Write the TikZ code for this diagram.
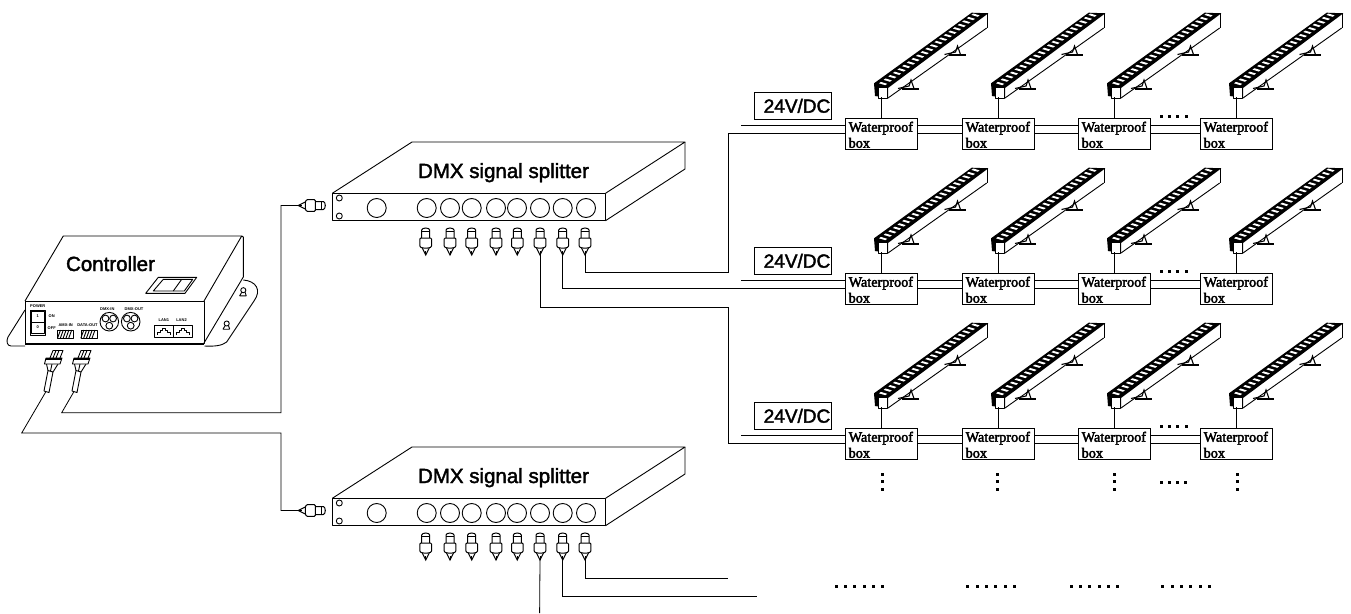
\documentclass[tikz,border=0pt]{standalone}
\usepackage{fontspec}
\setmainfont{Liberation Sans}
\newfontfamily\arialb{Liberation Sans}
\newfontfamily\arialt{Liberation Sans Bold}
\newfontfamily\timesb{Liberation Serif}
\newcommand{\heavy}[1]{\special{pdf:code 2 Tr 0.4 w}#1\special{pdf:code 0 Tr}}
\tikzset{
  ln/.style={line width=0.9pt,line join=round},
  wire/.style={line width=0.8pt},
  wbox/.style={draw,line width=0.8pt,rectangle,minimum width=72pt,minimum height=31pt,inner sep=0pt,outer sep=0pt},
  wtext/.style={inner sep=0pt,anchor=base west,align=left,font=\timesb\fontsize{14.2}{16}\selectfont},
  volt/.style={draw,line width=0.8pt,rectangle,minimum width=77pt,minimum height=27pt,inner sep=0pt,outer sep=0pt,text depth=0pt,font=\arialb\fontsize{19}{22}\selectfont},
  title/.style={inner sep=0pt,anchor=base,font=\arialb\fontsize{20.5}{24}\selectfont},
  tiny/.style={inner sep=0pt,font=\arialt\fontsize{4}{4}\selectfont},
  dotsq/.style={fill=black,draw=none},
  bnc/.pic={
    \draw[line width=1pt,fill=white] (-4,-17) -- (-4,-25) arc[start angle=180,end angle=0,x radius=4,y radius=-2] -- (4,-17);
    \draw[line width=1pt] (-4,-23.5) -- (4,-23.5);
    \draw[line width=1pt,fill=white,rounded corners=1pt] (-5.8,-17) -- (-5.8,-8) -- (-3,-7) -- (3,-7) -- (5.8,-8) -- (5.8,-17) -- cycle;
    \draw[line width=1pt] (-3.5,-7) -- (0,0) -- (3.5,-7);
    \draw[line width=1pt] (0,0) -- (0,-4);
  },
  lamp/.pic={
    \fill (874,83.3) -- (971.7,12.7) -- (988.3,13.3) -- (888,88) -- (888,98) -- (875,96) -- cycle;
    \foreach \i in {0,...,20}{
      \pgfmathsetmacro{\ax}{879+\i*4.62}
      \pgfmathsetmacro{\ay}{83.3-\i*3.42}
      \fill[white] (\ax,\ay) -- ++(1.9,-1.4) -- ++(6.3,1.9) -- ++(-1.9,1.4) -- cycle;
    }
    \draw[ln,fill=white] (878.5,87.5) rectangle (887.5,98);
    \draw[ln] (888,98) -- (986.7,28);
    \draw[line width=1.3pt] (987.5,13) -- (987.5,28);
    \draw[line width=1.1pt] (898,88.5) -- (909,86) -- (911,80) -- (914,88.5);
    \draw[line width=1.9pt] (902,89.3) -- (919.3,89.3);
    \draw[line width=1.1pt] (944.5,54.5) -- (955.5,52) -- (957.5,46) -- (960.5,54.5);
    \draw[line width=1.9pt] (948.5,55.3) -- (965.8,55.3);
  },
  plug/.pic={
    \draw[ln,fill=white] (44,391) -- (49,392.5) -- (53,372) -- (48,370.5) -- cycle;
    \draw[ln] (48,370.5) -- (46.5,364) (53,372) -- (58,364) (50.5,371) -- (52,364);
    \draw[ln,fill=white] (46,358) -- (62,358) -- (60,364) -- (44.5,364) -- cycle;
    \draw[line width=1.1pt] (46,359) -- (62,359);
    \draw[ln] (50,358) -- (53,350.5) -- (63,350.5) -- (60,358);
    \draw[ln] (53,358) -- (56,350.5) (56,358) -- (59,350.5);
  },
  keyhole/.pic={
    \begin{scope}[scale=1.5]
    \draw[ln] (0,-1) circle[radius=1.7];
    \draw[ln] (-2.5,2.8) -- (-1,0.4) (2,2.8) -- (1.2,0.4) (-2.5,2.8) -- (2,2.8);
    \end{scope}
  },
  port/.pic={
    \draw[ln] (0,0) rectangle (19,12.5);
    \draw[ln] (3,10) -- (3,7.5) -- (6,7.5) -- (6,5) -- (8,5) -- (8,3) -- (11,3) -- (11,5) -- (13,5) -- (13,7.5) -- (16,7.5) -- (16,10);
  },
  hatchbox/.pic={
    \draw[ln] (0,0) rectangle (16,8.3);
    \foreach \k in {1,...,5}{ \draw[ln] ({\k*2.8-3},8.3) -- ({\k*2.8},0); }
  },
  xlr/.pic={
    \draw[ln] (0,0) circle[radius=9.3];
    \draw[ln] (-3.8,-3.2) circle[radius=3.4];
    \draw[ln] (3.8,-3.2) circle[radius=3.4];
    \draw[ln] (0,4) circle[radius=3.4];
  }
}
\begin{document}
\begin{tikzpicture}[x=1pt,y=-1pt]
\useasboundingbox (0,0) rectangle (1351,613);
% controller
\draw[ln] (25,301) -- (63.3,236) -- (241.7,236) -- (204,301);
\draw[ln] (25,301) rectangle (204,343);
\draw[ln] (241.7,236) -- (243.3,237) -- (243.3,277) -- (204,343);
\draw[ln] (204.5,346) .. controls (213,346.5) and (222,346) .. (226.7,342) -- (254,301) .. controls (262,290) and (256,281) .. (243.3,280);
\draw[ln] (25,346) -- (11,346) .. controls (7,346) and (6,341) .. (8,337) -- (25,310);
\draw[line width=1.2pt] (25,344) -- (204,344);
\node[title] (ctrl) at (110.5,271) {\heavy{Controller}};
\draw[ln] (145.7,293.3) -- (158.3,277.3) -- (196.7,277.3) -- (185,293.3) -- cycle;
\draw[ln] (153.3,291) -- (163.3,279.3) -- (192.7,279.3) -- (184.3,291) -- cycle;
\draw[ln] (173.3,291) -- (181.7,279.3);
\draw[ln] (30,310) rectangle (45.7,335);
\draw[ln] (30,322.7) -- (45.7,322.7);
\draw[ln] (31.5,311.5) rectangle (44.2,333.5);
\node[tiny] (pw) at (37.8,306.2) {POWER};
\node[tiny] (p1) at (37.7,315.7) {1};
\node[tiny] (p0) at (37.7,327.5) {0};
\node[tiny] (on) at (51.7,315.7) {ON};
\node[tiny] (off) at (51.7,328.3) {OFF};
\node[tiny] (amx) at (65.7,325.3) {AMX-IN};
\node[tiny] (dat) at (87.5,325.3) {DATA-OUT};
\node[tiny] (dmi) at (107.3,309.3) {DMX-IN};
\node[tiny] (dmo) at (134,309.3) {DMX-OUT};
\node[tiny] (l1) at (163.8,320) {LAN1};
\node[tiny] (l2) at (181.5,320) {LAN2};
\pic at (57.7,330) {hatchbox};
\pic at (81,330) {hatchbox};
\pic at (109.3,321.7) {xlr};
\pic at (130.7,321.7) {xlr};
\pic at (154.3,325) {port};
\pic at (173.3,325) {port};
\pic at (243.3,291.7) {keyhole};
\pic at (226.7,325) {keyhole};
\pic at (0,0) {plug};
\pic at (28,0) {plug};
\coordinate (plugA) at (45.7,392);
\coordinate (plugB) at (73.7,392);
% splitters
\foreach \o/\n in {0/a,305/b}{
  \begin{scope}[yshift=-\o pt]
    \draw[ln] (332.3,193.3) -- (412,142) -- (685,142) -- (605.5,193.3);
    \draw[ln] (332.3,193.3) rectangle (605.5,220.7);
    \draw[ln] (685,142) -- (685,169) -- (605.5,220.7);
    \draw[ln] (339.3,198) circle[radius=3];
    \draw[ln] (339.3,216) circle[radius=3];
    \draw[ln] (376.7,208) circle[radius=9.5];
    \foreach \x in {426.7,450,471.7,496,517,540,562.7,586}{
      \draw[ln] (\x,208) circle[radius=9.5];
    }
    \foreach \x [count=\i] in {425.7,450,471.7,496,517.3,540,562.7,585}{
      \pic at (\x,255) {bnc};
      \coordinate (c\n\i) at (\x,255);
    }
    \pic[rotate=-90] at (298.3,205.5) {bnc};
    \coordinate (in\n) at (298.3,205.5);
  \end{scope}
}
\node[title] (sa) at (503.5,178) {\heavy{DMX signal splitter}};
\node[title] (sb) at (503.5,483) {\heavy{DMX signal splitter}};
% controller wires
\coordinate (j1) at (61.7,412.7);
\coordinate (j2) at (281,412.7);
\coordinate (j3) at (21.7,433);
\coordinate (j4) at (281,433);
\draw[wire] (plugB) -- (j1) -- (j2) -- (ina -| j2) -- (ina);
\draw[wire] (plugA) -- (j3) -- (j4) -- (inb -| j4) -- (inb);
% lamp grid
\foreach \dy [count=\r] in {0,155,310}{
  \foreach \dx [count=\c] in {0,117,233,355}{
    \node[wbox] (w\r\c) at (881+\dx,133.5+\dy) {};
    \node[wtext] (wt\r\c) at (848.5+\dx,147.7+\dy) {\heavy{Waterproof}\\\heavy{box}};
    \pic at (\dx,\dy) {lamp};
    \coordinate (l\r\c) at (881+\dx,97+\dy);
    \draw[wire] (w\r\c.north) -- (l\r\c);
  }
  \foreach \a/\b in {1/2,2/3,3/4}{
    \draw[wire] (w\r\a.east) -- (w\r\b.west);
    \draw[wire] ([yshift=7.8pt]w\r\a.east) -- ([yshift=7.8pt]w\r\b.west);
  }
  \node[volt] (v\r) at (792.5,105.8+\dy) {\hspace{9pt}\heavy{24V/DC}};
  \coordinate (t\r) at (741,125.7+\dy);
  \draw[wire] (t\r) -- ([yshift=7.8pt]w\r1.west);
  \foreach \k in {0,1,2,3}{ \fill[dotsq] (1160+\k*8.2,114.5+\dy) rectangle ++(3,3); }
}
% splitter-to-row wires
\coordinate (e1) at (728.5,272);
\coordinate (e2) at (728.5,307);
\draw[wire] (ca8) -- (ca8 |- e1) -- (e1) -- (e1 |- w11.west) -- (w11.west);
\draw[wire] (ca7) -- (ca7 |- w21.west) -- (w21.west);
\draw[wire] (ca6) -- (ca6 |- e2) -- (e2) -- (e2 |- w31.west) -- (w31.west);
% lower splitter wires
\coordinate (f1) at (728,578.6);
\coordinate (f2) at (757,596);
\coordinate (f3) at (539.6,613);
\draw[wire] (cb8) -- (cb8 |- f1) -- (f1);
\draw[wire] (cb7) -- (cb7 |- f2) -- (f2);
\draw[wire] (cb6) -- (f3);
% dots
\foreach \x in {882.7,997.7,1114.3,1237.7}{
  \foreach \y in {474.3,481.8,489.3}{ \fill[dotsq] (\x-1.5,\y-1.5) rectangle ++(3,3); }
}
\foreach \k in {0,1,2,3}{ \fill[dotsq] (1160.2+\k*8,481.2) rectangle ++(3,3); }
\foreach \x in {834.5,966.2,1069.5,1161.2}{
  \foreach \k in {0,...,5}{ \fill[dotsq] (\x+\k*9.33,585.2) rectangle ++(3,3); }
}
\end{tikzpicture}
\end{document}
